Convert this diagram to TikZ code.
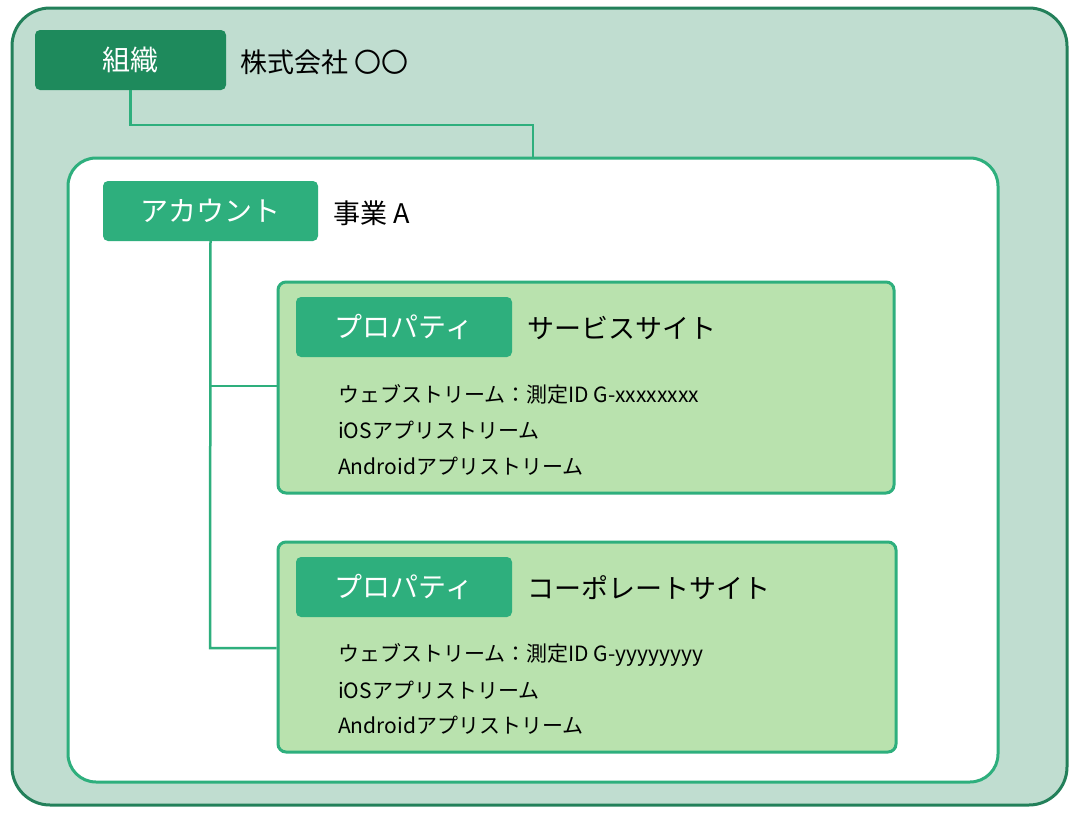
\documentclass[tikz,border=0pt]{standalone}
\usepackage{fontspec}
\setmainfont{Noto Sans CJK JP}
\definecolor{outerfill}{HTML}{C0DDD0}
\definecolor{outerline}{HTML}{23805A}
\definecolor{orgtag}{HTML}{1E8A5C}
\definecolor{acc}{HTML}{2EAF7D}
\definecolor{propfill}{HTML}{B9E2AE}
\tikzset{
 tagbox/.style={fill=#1,rounded corners=5pt,text=white,font=\fontsize{28}{30}\selectfont},
 lbl/.style={anchor=west,inner sep=0,font=\fontsize{27}{30}\selectfont},
 body/.style={anchor=west,inner sep=0,font=\fontsize{21}{24}\selectfont},
 conn/.style={draw=acc,line width=2.5pt}
}
\begin{document}
\begin{tikzpicture}[x=1pt,y=-1pt]
\useasboundingbox (0,0) rectangle (1077,814);
\draw[fill=outerfill,draw=outerline,line width=3pt,rounded corners=38pt] (12,8) rectangle (1067,805);
\draw[fill=white,draw=acc,line width=3pt,rounded corners=28pt] (68,158) rectangle (998,782);
\node[tagbox=orgtag,minimum width=191pt,minimum height=60pt] (org) at (130.5,60) {組織};
\node[lbl] (orgname) at (240,62) {株式会社 〇〇};
\coordinate (innertop) at (533,158);
\draw[conn] (org.south) |- (533,125) -- (innertop);
\node[tagbox=acc,minimum width=215pt,minimum height=60pt] (acc) at (210.5,211) {アカウント};
\node[lbl] (accname) at (333,213) {事業 A};
% property 1
\node[draw=acc,fill=propfill,line width=3pt,rounded corners=8pt,minimum width=616pt,minimum height=211pt,inner sep=0] (p1) at (586,387.5) {};
\node[tagbox=acc,minimum width=216pt,minimum height=60pt] (t1) at (404,327) {プロパティ};
\node[lbl] at (527,328) {サービスサイト};
\node[body] at (338,394) {ウェブストリーム：測定ID G-xxxxxxxx};
\node[body] at (338,430) {iOSアプリストリーム};
\node[body] at (338,466) {Androidアプリストリーム};
% property 2
\node[draw=acc,fill=propfill,line width=3pt,rounded corners=8pt,minimum width=618pt,minimum height=210pt,inner sep=0] (p2) at (587,647) {};
\node[tagbox=acc,minimum width=216pt,minimum height=60pt] (t2) at (404,587) {プロパティ};
\node[lbl] at (527,588) {コーポレートサイト};
\node[body] at (338,655) {ウェブストリーム：測定ID G-yyyyyyyy};
\node[body] at (338,690) {iOSアプリストリーム};
\node[body] at (338,725) {Androidアプリストリーム};
\draw[conn] (acc.south) -- (210,648) -- (p2.west |- 0,648);
\draw[conn] (210,386) -- (p1.west |- 0,386);
\end{tikzpicture}
\end{document}
